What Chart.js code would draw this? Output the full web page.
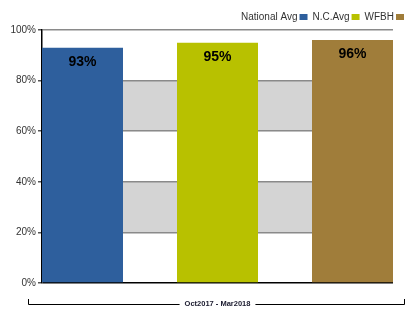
<!DOCTYPE html>
<html>
<head>
<meta charset="utf-8">
<script src="https://cdn.jsdelivr.net/npm/chart.js@4"></script>
<style>
  html, body { margin: 0; padding: 0; background: #fff; }
  #wrap { width: 417px; height: 331px; }
</style>
</head>
<body>
<div id="wrap"><canvas id="chart" width="417" height="331"></canvas></div>
<script>
// ─── data ───────────────────────────────────────────
const seriesNames  = ['National Avg', 'N.C.Avg', 'WFBH'];
const seriesValues = [93, 95, 96];
const seriesColors = ['#2e5f9d', '#b8c100', '#a07d3a'];
const periodLabel  = 'Oct2017 - Mar2018';
const yTicks       = [0, 20, 40, 60, 80, 100];
const bands        = [[20, 40], [60, 80]];

const FONT = "'Liberation Sans', Arial, sans-serif";

// ─── plugins ────────────────────────────────────────
// grey bands behind the grid
const bandPlugin = {
  id: 'bands',
  beforeDraw(chart) {
    const { ctx, chartArea: a, scales: { y } } = chart;
    ctx.save();
    ctx.fillStyle = '#d4d4d4';
    bands.forEach(([lo, hi]) => {
      const top = y.getPixelForValue(hi);
      const bot = y.getPixelForValue(lo);
      ctx.fillRect(a.left, top, a.right - a.left, bot - top);
    });
    ctx.restore();
  }
};

// "93%" inside the top of each bar
const valueLabels = {
  id: 'valueLabels',
  afterDatasetsDraw(chart) {
    const { ctx } = chart;
    ctx.save();
    ctx.font = 'bold 14px ' + FONT;
    ctx.fillStyle = '#000';
    ctx.textAlign = 'center';
    ctx.textBaseline = 'middle';
    chart.data.datasets.forEach((ds, i) => {
      const bar = chart.getDatasetMeta(i).data[0];
      ctx.fillText(ds.data[0].y + '%', bar.x, bar.y + 14);
    });
    ctx.restore();
  }
};

// legend top right: text then box
const legendRight = {
  id: 'legendRight',
  afterDraw(chart) {
    const { ctx } = chart;
    ctx.save();
    ctx.font = '10px ' + FONT;
    ctx.textBaseline = 'middle';
    ctx.textAlign = 'right';
    let x = 404;
    const yMid = 17;
    [...chart.data.datasets].reverse().forEach(ds => {
      ctx.fillStyle = ds.backgroundColor;
      ctx.fillRect(x - 8, yMid - 3, 8, 6);
      x -= 10;
      ctx.fillStyle = '#333';
      ctx.fillText(ds.label, x, yMid);
      x -= ctx.measureText(ds.label).width + 5;
    });
    ctx.restore();
  }
};

// period bracket under the plot
const periodBracket = {
  id: 'periodBracket',
  afterDraw(chart) {
    const { ctx, chartArea: a } = chart;
    const left = a.left - 14, right = a.right + 12;
    const yLine = a.bottom + 21;
    const mid = (a.left + a.right) / 2;
    ctx.save();
    ctx.font = 'bold 7.5px ' + FONT;
    const half = ctx.measureText(periodLabel).width / 2 + 5;
    ctx.strokeStyle = '#000';
    ctx.lineWidth = 1;
    ctx.beginPath();
    ctx.moveTo(left + 0.5, yLine - 5);
    ctx.lineTo(left + 0.5, yLine + 0.5);
    ctx.lineTo(mid - half, yLine + 0.5);
    ctx.moveTo(mid + half, yLine + 0.5);
    ctx.lineTo(right - 0.5, yLine + 0.5);
    ctx.lineTo(right - 0.5, yLine - 5);
    ctx.stroke();
    ctx.fillStyle = '#1a1a2e';
    ctx.textAlign = 'center';
    ctx.textBaseline = 'middle';
    ctx.fillText(periodLabel, mid, yLine);
    ctx.restore();
  }
};

// ─── chart ──────────────────────────────────────────
new Chart(document.getElementById('chart'), {
  type: 'bar',
  data: {
    datasets: seriesNames.map((name, i) => ({
      label: name,
      data: [{ x: i, y: seriesValues[i] }],
      backgroundColor: seriesColors[i],
      grouped: false,
      barPercentage: 0.6,
      categoryPercentage: 1,
    }))
  },
  options: {
    responsive: false,
    animation: false,
    layout: { padding: { top: 30, bottom: 48, left: 0, right: 24 } },
    scales: {
      x: {
        type: 'linear', min: -0.3, max: 2.3, display: false, offset: false,
        afterBuildTicks: axis => { axis.ticks = seriesNames.map((_, i) => ({ value: i })); },
      },
      y: {
        min: 0, max: 100,
        afterBuildTicks: axis => { axis.ticks = yTicks.map(v => ({ value: v })); },
        afterFit: axis => { axis.width = 42; },
        ticks: {
          callback: v => v + '%',
          color: '#333',
          padding: 2,
          font: { family: FONT, size: 10 },
        },
        grid: {
          color: c => c.tick && c.tick.value === 0 ? '#000' : '#8a8a8a',
          lineWidth: 1.5,
          tickLength: 4,
          tickColor: '#555',
        },
        border: { color: '#000', width: 1.5 },
      }
    },
    plugins: {
      legend: { display: false },
      tooltip: { enabled: false },
    }
  },
  plugins: [bandPlugin, valueLabels, legendRight, periodBracket]
});
</script>
</body>
</html>
